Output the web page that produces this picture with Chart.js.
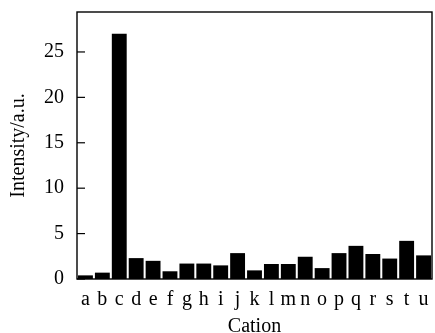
<!DOCTYPE html>
<html>
<head>
<meta charset="utf-8">
<script src="https://cdn.jsdelivr.net/npm/chart.js@4"></script>
<style>
  html, body { margin: 0; padding: 0; background: #fff; }
  #wrap { width: 435px; height: 333px; }
</style>
</head>
<body>
<div id="wrap"><canvas id="chart" width="435" height="333"></canvas></div>
<script>
// ── Data ────────────────────────────────────────────────
const cations = ["a","b","c","d","e","f","g","h","i","j","k","l","m","n","o","p","q","r","s","t","u"];
const intensity = [0.4, 0.7, 27, 2.3, 2.0, 0.85, 1.7, 1.7, 1.5, 2.85, 0.95, 1.65, 1.65, 2.45, 1.2, 2.85, 3.65, 2.75, 2.25, 4.2, 2.6];
const yTicks = [0, 5, 10, 15, 20, 25];

const FONT = "'Liberation Serif', 'DejaVu Serif', serif";

// ── Frame + inward ticks ────────────────────────────────
const framePlugin = {
  id: "frame",
  afterDraw(chart) {
    const { ctx, chartArea: a, scales } = chart;
    ctx.save();
    ctx.strokeStyle = "#000";
    ctx.lineWidth = 1.4;
    ctx.strokeRect(a.left, a.top, a.right - a.left, a.bottom - a.top);
    ctx.lineWidth = 1.2;
    yTicks.forEach((v) => {
      const py = scales.y.getPixelForValue(v);
      ctx.beginPath();
      ctx.moveTo(a.left, py);
      ctx.lineTo(a.left + 8, py);
      ctx.stroke();
    });
    ctx.restore();
  }
};

// drop the automatic label overhang padding so the frame sits where it should
const noOverhang = (s) => {
  s.paddingTop = 0;
  s.paddingBottom = 0;
  s.paddingLeft = 0;
  s.paddingRight = 0;
};

new Chart(document.getElementById("chart"), {
  type: "bar",
  data: {
    labels: cations,
    datasets: [{
      data: intensity,
      backgroundColor: "#000",
      borderWidth: 0,
      barPercentage: 0.88,
      categoryPercentage: 1.0
    }]
  },
  options: {
    responsive: false,
    animation: false,
    layout: { padding: { top: 12, right: 3, left: 7, bottom: 0 } },
    plugins: { legend: { display: false }, tooltip: { enabled: false } },
    scales: {
      x: {
        afterFit: noOverhang,
        grid: { display: false, drawTicks: false },
        border: { display: false },
        ticks: { color: "#000", font: { family: FONT, size: 20 }, padding: 9, maxRotation: 0, autoSkip: false },
        title: { display: true, text: "Cation", color: "#000", font: { family: FONT, size: 20, lineHeight: 0.6 }, padding: { top: 0, bottom: 0 } }
      },
      y: {
        min: 0,
        max: 29.4,
        afterFit: noOverhang,
        afterBuildTicks: (s) => { s.ticks = yTicks.map((v) => ({ value: v })); },
        grid: { display: false, drawTicks: false },
        border: { display: false },
        ticks: { color: "#000", font: { family: FONT, size: 20 }, padding: 13 },
        title: { display: true, text: "Intensity/a.u.", color: "#000", font: { family: FONT, size: 20 }, padding: { top: 0, bottom: 0 } }
      }
    }
  },
  plugins: [framePlugin]
});
</script>
</body>
</html>
